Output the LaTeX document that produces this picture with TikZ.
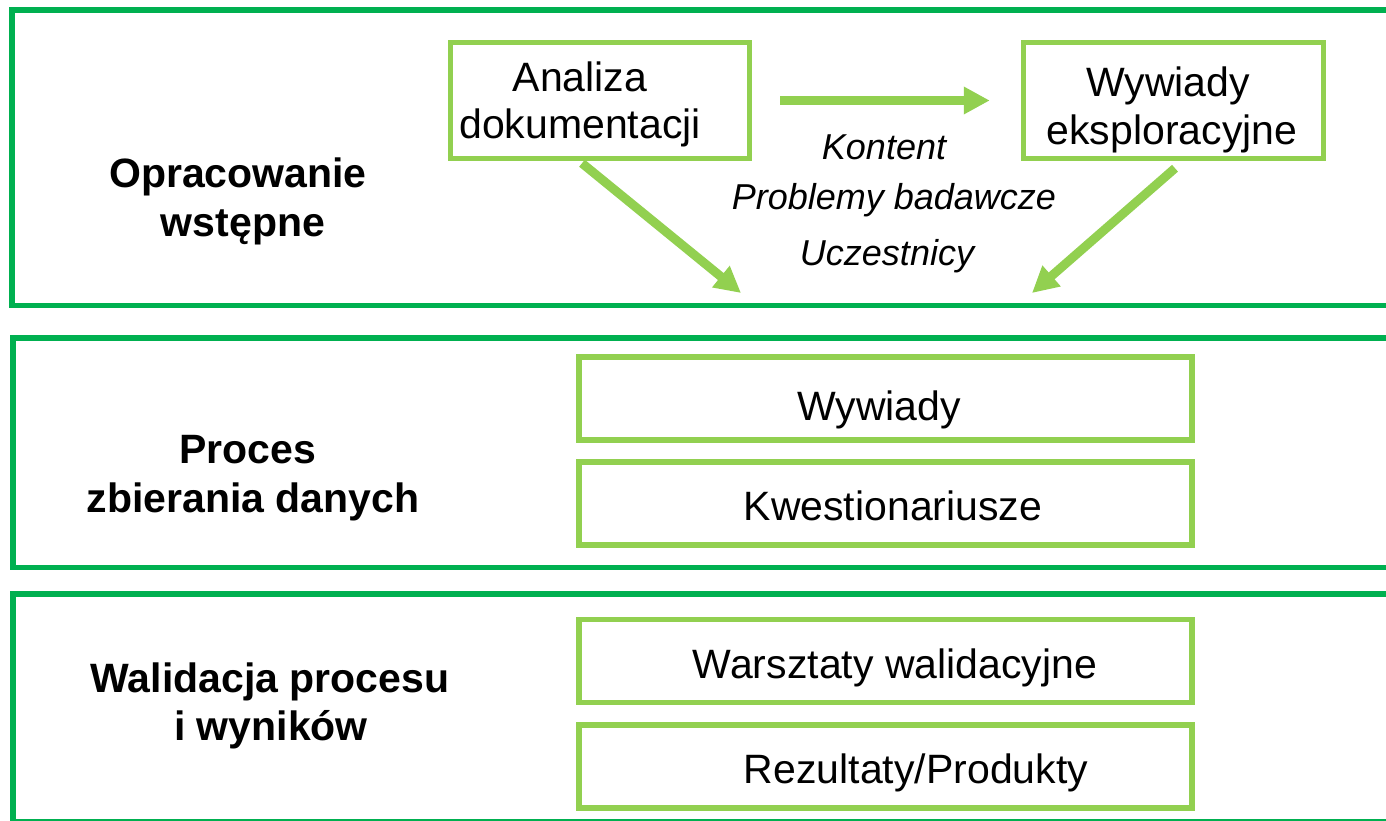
\documentclass[tikz,border=0pt]{standalone}
\usepackage{fontspec}
\setmainfont{Liberation Sans}
\usetikzlibrary{arrows.meta}
\definecolor{frameg}{RGB}{0,176,80}
\definecolor{boxg}{RGB}{146,208,80}
\begin{document}
\begin{tikzpicture}[x=1pt,y=-1pt,
  frame/.style={draw=frameg,line width=5.5pt},
  inbox/.style={draw=boxg,line width=5.5pt,inner sep=0pt},
  lbl/.style={anchor=base,inner sep=0pt,font=\fontsize{41}{47}\selectfont},
  blbl/.style={lbl,font=\fontsize{41}{47}\selectfont\bfseries},
  ilbl/.style={anchor=base,inner sep=0pt,font=\fontsize{36}{42}\selectfont\itshape},
  arr/.style={draw=boxg,line width=9pt,-{Triangle[length=26pt,width=26pt]}}]
\useasboundingbox (0,0) rectangle (1386,821);
\fill[white] (0,0) rectangle (1386,821);
\begin{scope}
\clip (0,0) rectangle (1386,821);
\draw[frame] (12,10) rectangle (1400,305.5);
\draw[frame] (13,338) rectangle (1400,567.5);
\draw[frame] (13,594) rectangle (1400,822);
\end{scope}
% section labels
\node[blbl] (op1) at (238,188) {Opracowanie};
\node[blbl] (op2) at (243,236) {wstępne};
\node[blbl] (pr1) at (248,463) {Proces};
\node[blbl] (pr2) at (253,512) {zbierania danych};
\node[blbl] (wa1) at (270,692) {Walidacja procesu};
\node[blbl] (wa2) at (271,740) {i wyników};
% top boxes
\node[inbox,minimum width=299pt,minimum height=116pt] (anal) at (600,100.5) {};
\node[inbox,minimum width=300pt,minimum height=116pt] (weks) at (1173.5,100.5) {};
\node[lbl] (an1) at (580,92) {Analiza};
\node[lbl] (an2) at (580,139) {dokumentacji};
\node[lbl] (we1) at (1168,97) {Wywiady};
\node[lbl] (we2) at (1172,145) {eksploracyjne};
% italic texts
\node[ilbl] (k1) at (884,160) {Kontent};
\node[ilbl] (k2) at (894,210) {Problemy badawcze};
\node[ilbl] (k3) at (887,265) {Uczestnicy};
% arrows
\coordinate (tipL) at (741,293);
\coordinate (tipR) at (1032,293);
\draw[arr] ([xshift=28pt]anal.east) -- ([xshift=-31pt]weks.west);
\draw[arr] ([xshift=-18pt,yshift=-2pt]anal.south) -- (tipL);
\draw[arr] ([xshift=1.5pt,yshift=-7pt]weks.south) -- (tipR);
% lower boxes
\node[inbox,minimum width=613pt,minimum height=83pt] (b1) at (885.5,398.5) {};
\node[inbox,minimum width=613pt,minimum height=83pt] (b2) at (885.5,503.5) {};
\node[inbox,minimum width=613pt,minimum height=83pt] (b3) at (885.5,661) {};
\node[inbox,minimum width=613pt,minimum height=83pt] (b4) at (885.5,766.5) {};
\node[lbl] (t1) at (879,420) {Wywiady};
\node[lbl] (t2) at (893,520) {Kwestionariusze};
\node[lbl] (t3) at (895,678) {Warsztaty walidacyjne};
\node[lbl] (t4) at (916,783) {Rezultaty/Produkty};
\end{tikzpicture}
\end{document}
